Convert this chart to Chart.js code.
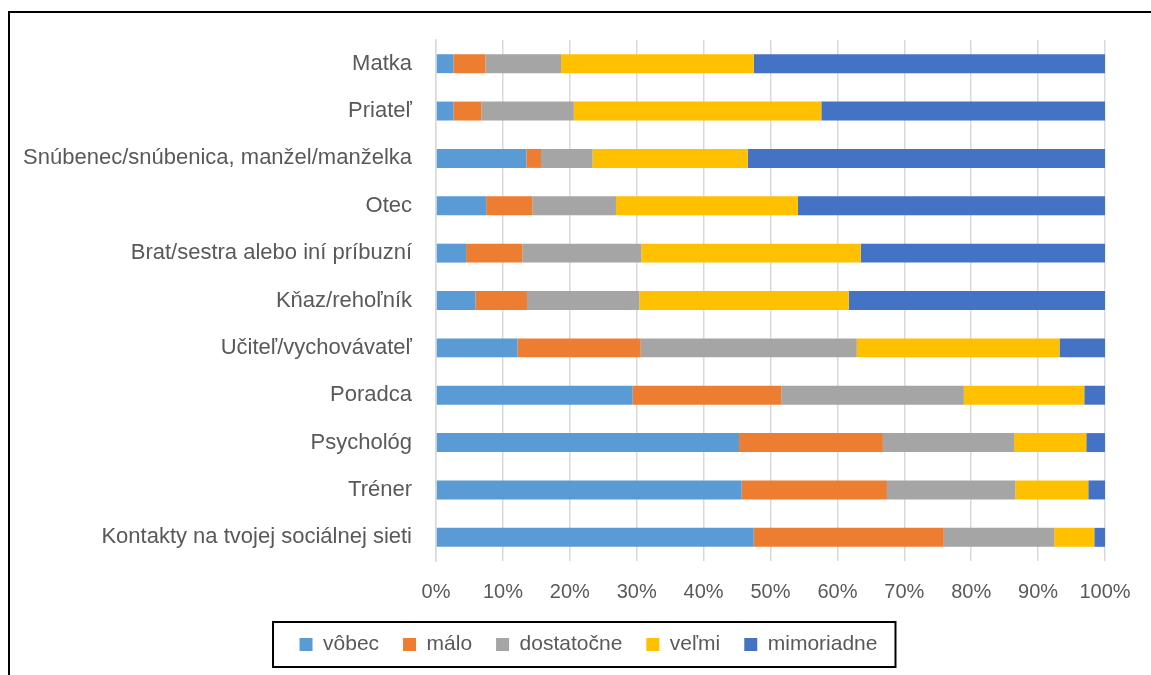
<!DOCTYPE html>
<html><head><meta charset="utf-8">
<script src="https://cdn.jsdelivr.net/npm/chart.js@4.4.1/dist/chart.umd.min.js"></script>
<style>html,body{margin:0;padding:0;background:#fff;overflow:hidden}</style>
</head><body>
<canvas id="c" width="1151" height="675"></canvas>
<script>
const categories = [
  'Matka', 'Priateľ', 'Snúbenec/snúbenica, manžel/manželka', 'Otec',
  'Brat/sestra alebo iní príbuzní', 'Kňaz/rehoľník', 'Učiteľ/vychovávateľ',
  'Poradca', 'Psychológ', 'Tréner', 'Kontakty na tvojej sociálnej sieti'
];
const seriesNames = ['vôbec', 'málo', 'dostatočne', 'veľmi', 'mimoriadne'];
const vobec      = [2.6, 2.6, 13.5, 7.5, 4.5, 5.9, 12.2, 29.4, 45.3, 45.7, 47.5];
const malo       = [4.8, 4.2, 2.2, 6.9, 8.4, 7.7, 18.4, 22.2, 21.5, 21.7, 28.4];
const dostatocne = [11.3, 13.8, 7.7, 12.5, 17.8, 16.8, 32.3, 27.3, 19.6, 19.2, 16.5];
const velmi      = [28.8, 37.0, 23.2, 27.2, 32.8, 31.3, 30.3, 18.0, 10.8, 10.9, 6.0];
const mimoriadne = [52.5, 42.4, 53.4, 45.9, 36.5, 38.3, 6.8, 3.1, 2.8, 2.5, 1.6];
const xTickLabels = ['0%', '10%', '20%', '30%', '40%', '50%', '60%', '70%', '80%', '90%', '100%'];

const seriesValues = [vobec, malo, dostatocne, velmi, mimoriadne];
const seriesColors = ['#5B9BD5', '#ED7D31', '#A5A5A5', '#FFC000', '#4472C4'];
const FONT = '"Liberation Sans", Arial, sans-serif';
const TEXT = '#595959';

const frame = {
  id: 'frame',
  afterLayout(chart) {
    // shift the legend block to the right, as in the original layout
    const lg = chart.legend;
    lg.left += 27;
    lg.right += 27;
  },
  beforeDraw(chart) {
    const ctx = chart.ctx;
    ctx.save();
    ctx.fillStyle = '#fff';
    ctx.fillRect(0, 0, chart.width, chart.height);
    ctx.strokeStyle = '#000';
    ctx.lineWidth = 2;
    ctx.strokeRect(9, 12, chart.width + 50, chart.height + 50);
    ctx.restore();
  },
  afterDraw(chart) {
    const lg = chart.legend;
    const hb = lg.legendHitBoxes;
    if (!hb || !hb.length) return;
    const first = hb[0], last = hb[hb.length - 1];
    const ctx = chart.ctx;
    ctx.save();
    ctx.strokeStyle = '#000';
    ctx.lineWidth = 2;
    const l = first.left - 26.5, r = last.left + last.width + 18;
    const t = first.top - 12, b = first.top + first.height + 12;
    ctx.strokeRect(l, t, r - l, b - t);
    ctx.restore();
  }
};

new Chart(document.getElementById('c'), {
  type: 'bar',
  data: {
    labels: categories,
    datasets: seriesNames.map((n, i) => ({
      label: n,
      data: seriesValues[i],
      backgroundColor: seriesColors[i],
      borderWidth: 0,
      barPercentage: 0.4,
      categoryPercentage: 1
    }))
  },
  options: {
    indexAxis: 'y',
    responsive: false,
    animation: false,
    devicePixelRatio: 1,
    layout: { padding: { left: 18, right: 46, top: 40, bottom: 10 } },
    plugins: {
      tooltip: { enabled: false },
      legend: {
        position: 'bottom',
        labels: {
          color: TEXT,
          font: { family: FONT, size: 21 },
          boxWidth: 13,
          boxHeight: 13,
          padding: 24
        }
      }
    },
    scales: {
      x: {
        stacked: true,
        min: 0, max: 100,
        ticks: {
          stepSize: 10,
          color: TEXT,
          font: { family: FONT, size: 20 },
          padding: 19,
          callback: (v, i) => xTickLabels[i]
        },
        grid: { color: '#D9D9D9', lineWidth: 1.5, drawTicks: false },
        border: { display: false },
        afterFit(s) { s.height = 49; }
      },
      y: {
        stacked: true,
        ticks: {
          color: TEXT,
          font: { family: FONT, size: 22 },
          padding: 24,
          autoSkip: false
        },
        grid: { display: false, drawTicks: false },
        border: { display: true, color: '#D9D9D9', width: 1.5 },
        afterFit(s) { s.width = 418; }
      }
    }
  },
  plugins: [frame]
});
</script>
</body></html>
